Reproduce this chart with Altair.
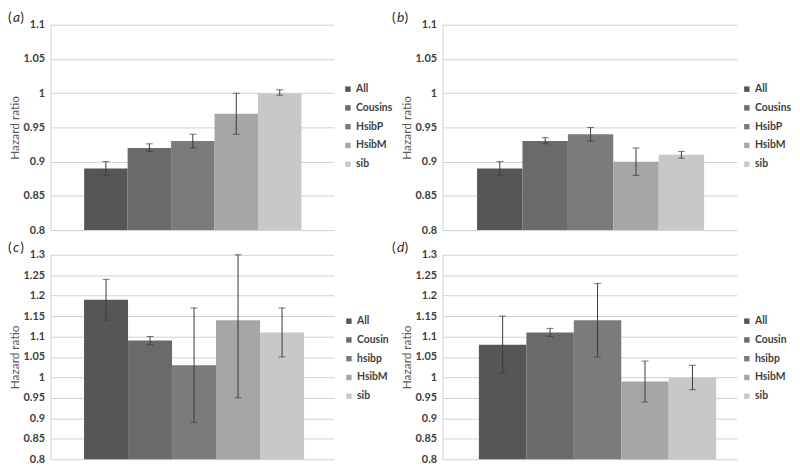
import altair as alt
import pandas as pd

labels_ab = ["All", "Cousins", "HsibP", "HsibM", "sib"]
labels_cd = ["All", "Cousin", "hsibp", "HsibM", "sib"]
colors = ["#565656", "#6a6a6a", "#7b7b7b", "#a6a6a6", "#c8c8c8"]

a_hr = [0.89, 0.92, 0.93, 0.97, 1.00]
a_lo = [0.88, 0.915, 0.92, 0.94, 0.997]
a_hi = [0.90, 0.926, 0.94, 1.00, 1.005]

b_hr = [0.89, 0.93, 0.94, 0.90, 0.91]
b_lo = [0.88, 0.926, 0.93, 0.88, 0.905]
b_hi = [0.90, 0.935, 0.95, 0.92, 0.915]

c_hr = [1.19, 1.09, 1.03, 1.14, 1.11]
c_lo = [1.14, 1.08, 0.89, 0.95, 1.05]
c_hi = [1.24, 1.10, 1.17, 1.30, 1.17]

d_hr = [1.08, 1.11, 1.14, 0.99, 1.00]
d_lo = [1.01, 1.10, 1.05, 0.94, 0.97]
d_hi = [1.15, 1.12, 1.23, 1.04, 1.03]

ticks_top = [0.8, 0.85, 0.9, 0.95, 1.0, 1.05, 1.1]
ticks_bottom = [0.8, 0.85, 0.9, 0.95, 1.0, 1.05, 1.1, 1.15, 1.2, 1.25, 1.3]

FONT = "Lato"


def panel(tag, labels, hr, lo, hi, ticks, width, height, po, align, legx, legy, tagx):
    df = pd.DataFrame({"group": labels, "hr": hr, "lo": lo, "hi": hi})
    base = alt.Chart(df)
    x = alt.X("group:N", sort=labels,
              scale=alt.Scale(paddingInner=0, paddingOuter=po, align=align),
              axis=None)
    yscale = alt.Scale(domain=[ticks[0], ticks[-1]], zero=False, nice=False)
    yaxis = alt.Axis(values=ticks, format=".2~f", title="Hazard ratio",
                     labelFont=FONT, labelFontWeight="bold", labelFontSize=11,
                     labelColor="#404040", ticks=False, domainColor="#d0d0d0",
                     gridColor="#d0d0d0", labelPadding=6, labelOverlap=False,
                     labelFlush=False,
                     titleFont=FONT, titleFontSize=12, titleFontWeight="normal",
                     titleColor="#595959", titlePadding=1.5)
    bars = base.mark_bar().encode(
        x=x,
        y=alt.Y("hr:Q", scale=yscale, axis=yaxis),
        y2=alt.datum(ticks[0]),
        color=alt.Color("group:N", sort=labels,
                        scale=alt.Scale(domain=labels, range=colors),
                        legend=alt.Legend(orient="none", legendX=legx, legendY=legy,
                                          title=None, symbolType="square",
                                          symbolSize=30, symbolStrokeWidth=0,
                                          labelFont=FONT, labelFontSize=10.5,
                                          labelFontWeight="bold", labelColor="#404040",
                                          labelOffset=3, rowPadding=8, padding=0)),
    )
    err = base.mark_rule(color="#3a3a3a", strokeWidth=1).encode(
        x=x, y=alt.Y("lo:Q", scale=yscale, axis=yaxis), y2="hi:Q")
    cap_lo = base.mark_tick(color="#3a3a3a", thickness=1, size=7).encode(
        x=x, y=alt.Y("lo:Q", scale=yscale, axis=yaxis))
    cap_hi = base.mark_tick(color="#3a3a3a", thickness=1, size=7).encode(
        x=x, y=alt.Y("hi:Q", scale=yscale, axis=yaxis))
    tdf = alt.Chart(pd.DataFrame({"t": [tag]}))
    tstyle = dict(align="left", baseline="middle", font=FONT, fontSize=14, color="#303030")
    lp = tdf.mark_text(text="(", **tstyle).encode(x=alt.value(tagx), y=alt.value(-7))
    lt = tdf.mark_text(fontStyle="italic", **tstyle).encode(
        text="t:N", x=alt.value(tagx + 5), y=alt.value(-7))
    rp = tdf.mark_text(text=")", **tstyle).encode(x=alt.value(tagx + 12.5), y=alt.value(-7))
    return alt.layer(bars, err, cap_lo, cap_hi, lp, lt, rp).properties(width=width, height=height)


pa = panel("a", labels_ab, a_hr, a_lo, a_hi, ticks_top, 287, 208, 0.76, 0.51, 296, 60, -43)
pb = panel("b", labels_ab, b_hr, b_lo, b_hi, ticks_top, 298, 208, 0.74, 0.515, 303, 60, -51)
pc = panel("c", labels_cd, c_hr, c_lo, c_hi, ticks_bottom, 287, 207, 0.72, 0.53, 297, 62, -43)
pd_ = panel("d", labels_cd, d_hr, d_lo, d_hi, ticks_bottom, 298, 207, 0.6, 0.64, 303, 62, -51)

chart = alt.concat(pa, pb, pc, pd_, columns=2, bounds="flush",
                   spacing={"row": 25, "column": 110}).resolve_scale(
    x="independent", y="independent", color="independent"
).resolve_legend(color="independent").properties(
    padding=0, background="white"
).configure_view(stroke=None)

chart.save("out.html", embed_options={"renderer": "svg", "actions": False})
